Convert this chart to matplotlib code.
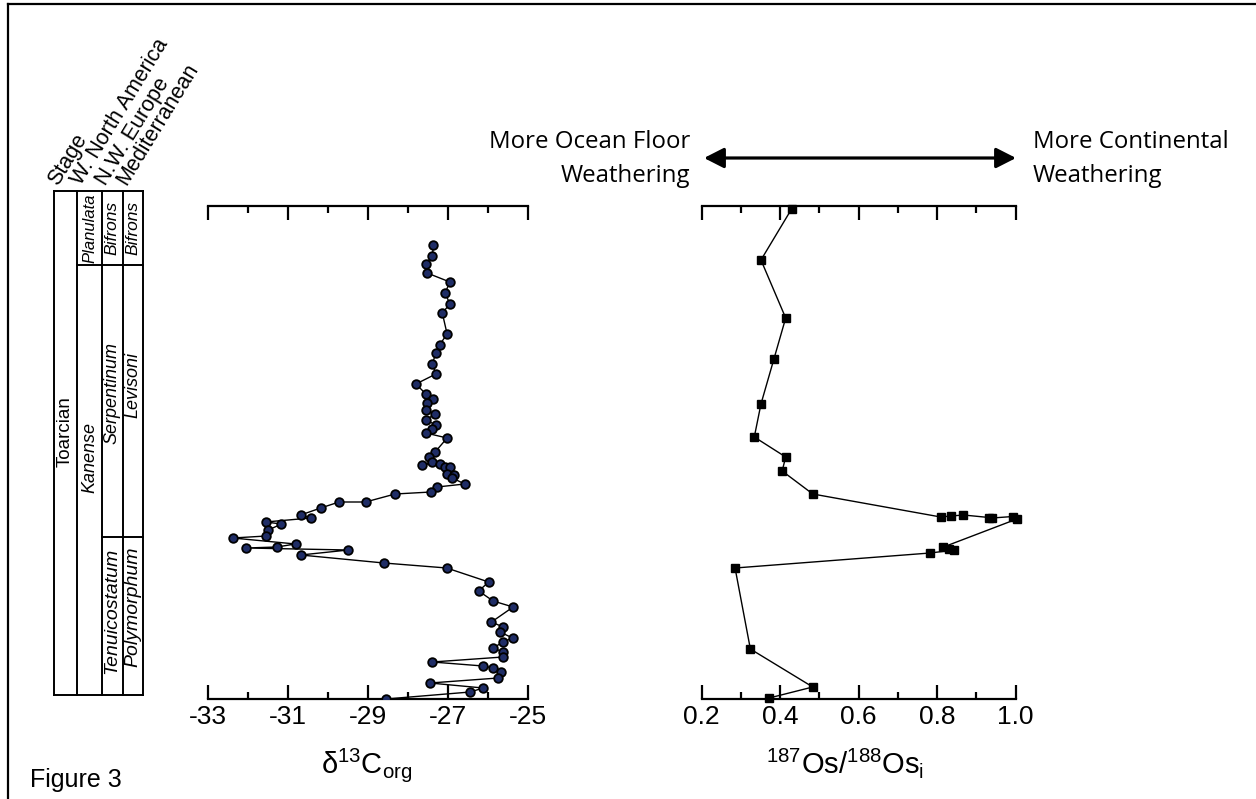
import matplotlib
matplotlib.use("Agg")
import matplotlib.pyplot as plt
from matplotlib.lines import Line2D
from matplotlib.patches import FancyArrowPatch

plt.rcParams['font.family'] = ['Liberation Sans', 'DejaVu Sans']
plt.rcParams['mathtext.fontset'] = 'custom'
plt.rcParams['mathtext.rm'] = 'Liberation Sans'
plt.rcParams['mathtext.it'] = 'Liberation Sans:italic'

# organic carbon isotopes, top of section first
d13c_height = [45.4, 44.3, 43.5, 42.6, 41.7, 40.6, 39.5, 38.6, 36.5, 35.4,
               34.6, 33.5, 32.5, 31.5, 30.5, 30.0, 29.6, 28.9, 28.5, 27.9,
               27.4, 27.0, 26.6, 26.1, 24.7, 24.2, 23.7, 23.45, 23.55, 23.25,
               23.2, 22.5, 22.4, 22.1, 21.5, 21.2, 20.7, 20.5, 19.7, 19.7,
               19.1, 18.4, 18.1, 17.7, 17.5, 16.9, 16.3, 16.1, 15.5, 15.2,
               15.1, 14.9, 14.4, 13.6, 13.1, 11.7, 10.8, 9.8, 9.2, 7.7,
               7.2, 6.7, 6.1, 5.7, 5.1, 4.7, 4.2, 3.7, 3.3, 3.1,
               2.7, 2.1, 1.6, 1.1, 0.7, 0.0]
d13c_value = [-27.37, -27.40, -27.56, -27.53, -26.96, -27.08, -26.96, -27.15, -27.03, -27.22,
              -27.31, -27.40, -27.31, -27.81, -27.56, -27.37, -27.53, -27.56, -27.33, -27.56,
              -27.31, -27.40, -27.56, -27.03, -27.33, -27.49, -27.40, -27.65, -27.21, -27.08,
              -26.96, -27.03, -26.85, -26.90, -26.59, -27.28, -27.43, -28.33, -29.07, -29.73,
              -30.19, -30.69, -30.44, -31.57, -31.17, -31.50, -31.55, -32.39, -30.82, -31.29,
              -32.05, -29.50, -30.69, -28.61, -27.04, -25.99, -26.24, -25.88, -25.38, -25.92,
              -25.63, -25.71, -25.39, -25.63, -25.88, -25.63, -25.63, -27.40, -26.13, -25.88,
              -25.67, -25.75, -27.46, -26.13, -26.45, -28.56]

# initial osmium isotope ratios
os_height = [49.0, 43.9, 38.1, 34.0, 29.5, 26.2, 24.2, 22.8, 20.5,
             18.2, 18.3, 18.4, 18.15, 18.1, 18.25, 18.0,
             15.2, 15.0, 14.9, 14.6, 13.1, 5.0, 1.2, 0.1]
os_value = [0.429, 0.351, 0.414, 0.384, 0.351, 0.334, 0.414, 0.405, 0.483,
            0.809, 0.835, 0.867, 0.932, 0.940, 0.993, 1.003,
            0.816, 0.829, 0.844, 0.782, 0.285, 0.324, 0.483, 0.372]

# biostratigraphic chart: column edges (px), headers and zones
column_edges = [54, 77, 102, 122.5, 143]
column_heads = ['Stage', 'W. North America', 'N.W. Europe', 'Mediterranean']
zone_breaks = [(1, 265), (2, 265), (3, 265), (2, 537), (3, 537)]
# (column, name, top, bottom, italic, size)
zone_labels = [(0, 'Toarcian', 191, 672, False, 13.5),
               (1, 'Planulata', 191, 265, True, 12),
               (1, 'Kanense', 265, 650, True, 13),
               (2, 'Bifrons', 191, 265, True, 12.5),
               (2, 'Serpentinum', 265, 521, True, 13),
               (2, 'Tenuicostatum', 537, 685, True, 14),
               (3, 'Bifrons', 191, 265, True, 12.5),
               (3, 'Levisoni', 265, 505, True, 13),
               (3, 'Polymorphum', 537, 677, True, 14)]

W, H = 1256, 799
fig = plt.figure(figsize=(W / 100, H / 100), dpi=100)


def fx(px):
    return px / W


def fy(py):
    return 1 - py / H


def style_axis(ax, xmin, xmax, major, minor):
    ax.set_xlim(xmin, xmax)
    ax.set_ylim(0, 49.3)
    for s in ['left', 'right']:
        ax.spines[s].set_visible(False)
    for s in ['top', 'bottom']:
        ax.spines[s].set_linewidth(1.6)
    ax.set_yticks([])
    ax.set_xticks(major)
    ax.set_xticks(minor, minor=True)
    ax.tick_params(axis='x', which='both', direction='in', top=True, bottom=True,
                   width=1.6, labelsize=19, pad=4)
    ax.tick_params(axis='x', which='major', length=10)
    ax.tick_params(axis='x', which='minor', length=5)
    ax.patch.set_alpha(0)


ax1 = fig.add_axes([fx(208.3), fy(699), fx(528.3 - 208.3), (699 - 206) / H])
ax1.plot(d13c_value, d13c_height, color='black', lw=1, marker='o', ms=6.2,
         mfc='#1f2d66', mec='black', mew=1.3, zorder=3)
style_axis(ax1, -33, -25, [-33, -31, -29, -27, -25], [-32, -30, -28, -26])
ax1.set_xticklabels(['-33', '-31', '-29', '-27', '-25'])

ax2 = fig.add_axes([fx(701.7), fy(699), fx(1015.7 - 701.7), (699 - 206) / H])
ax2.plot(os_value, os_height, color='black', lw=1, marker='s', ms=6,
         mfc='black', mec='black', clip_on=False, zorder=3)
style_axis(ax2, 0.2, 1.0, [0.2, 0.4, 0.6, 0.8, 1.0], [0.3, 0.5, 0.7, 0.9])
ax2.set_xticklabels(['0.2', '0.4', '0.6', '0.8', '1.0'])

# axis titles
fig.text(fx(367), fy(773), r'$\mathrm{\delta^{13}C_{org}}$', fontsize=21,
         ha='center', va='baseline')
fig.text(fx(845), fy(773), r'$\mathrm{^{187}Os/^{188}Os_{i}}$', fontsize=21,
         ha='center', va='baseline')

# weathering arrow
fig.add_artist(FancyArrowPatch((fx(704), fy(158)), (fx(1016), fy(158)),
                               transform=fig.transFigure,
                               arrowstyle='<|-|>,head_length=0.55,head_width=0.28',
                               shrinkA=0, shrinkB=0,
                               mutation_scale=22, lw=2.3, color='black'))
ann = dict(family=['Open Sans', 'DejaVu Sans'], fontsize=17.3, va='center')
fig.text(fx(690), fy(142), 'More Ocean Floor', ha='right', **ann)
fig.text(fx(690), fy(176), 'Weathering', ha='right', **ann)
fig.text(fx(1033), fy(142), 'More Continental', ha='left', **ann)
fig.text(fx(1033), fy(176), 'Weathering', ha='left', **ann)

# stratigraphic chart
top, bot = 191, 695
lw_col = 1.4
for xe in column_edges:
    fig.add_artist(Line2D([fx(xe), fx(xe)], [fy(top), fy(bot)], color='black', lw=lw_col))
for yb in (top, bot):
    fig.add_artist(Line2D([fx(column_edges[0]), fx(column_edges[-1])], [fy(yb), fy(yb)],
                          color='black', lw=lw_col))
for col, yb in zone_breaks:
    fig.add_artist(Line2D([fx(column_edges[col]), fx(column_edges[col + 1])], [fy(yb), fy(yb)],
                          color='black', lw=lw_col))
for col, name, y0, y1, ital, fs in zone_labels:
    xc = (column_edges[col] + column_edges[col + 1]) / 2
    fig.text(fx(xc), fy((y0 + y1) / 2), name, rotation=90, ha='center', va='center',
             fontsize=fs, style='italic' if ital else 'normal')
for i, head in enumerate(column_heads):
    fig.text(fx(column_edges[i] + 4), fy(186), head, rotation=58.5, rotation_mode='anchor',
             ha='left', va='baseline', fontsize=15.5)

# page frame and caption
fig.add_artist(Line2D([fx(7.5), fx(W)], [fy(4), fy(4)], color='black', lw=1.6))
fig.add_artist(Line2D([fx(7.5), fx(7.5)], [fy(4), fy(H)], color='black', lw=1.6))
fig.text(fx(30), fy(787), 'Figure 3', fontsize=18, ha='left', va='baseline')

fig.savefig('out.png', dpi=100)
